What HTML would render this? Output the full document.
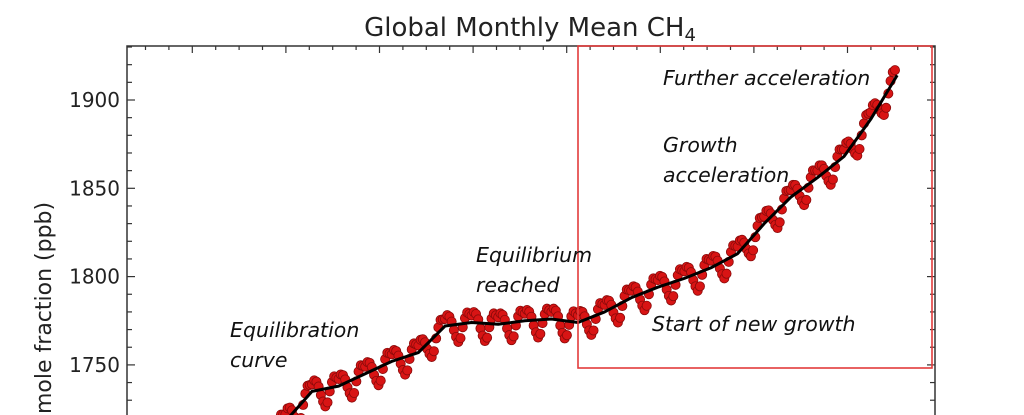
<!DOCTYPE html>
<html><head><meta charset="utf-8"><style>
html,body{margin:0;background:#fff;width:1024px;height:415px;overflow:hidden}
svg{display:block;overflow:hidden}
text{font-family:"DejaVu Sans","Liberation Sans",sans-serif}
.ann{font-family:"DejaVu Sans","Liberation Sans",sans-serif;font-style:italic;font-size:20.5px;fill:#111}
</style></head><body>
<svg id="chart" width="1024" height="415" viewBox="0 0 1024 415" xmlns="http://www.w3.org/2000/svg">
<defs><clipPath id="frame"><rect x="0" y="0" width="1024" height="415"/></clipPath></defs>
<g clip-path="url(#frame)">
<text x="530" y="36" font-size="26" text-anchor="middle" fill="#222">Global Monthly Mean CH<tspan font-size="18" dy="5">4</tspan></text>
<text transform="translate(51,414) rotate(-90)" font-size="22" fill="#222" x="0" y="0">mole fraction (ppb)</text>
<g id="axes"></g>
<g id="marks"></g>
<rect x="578" y="46" width="354" height="322" fill="none" stroke="#e23b3b" stroke-width="1.6"/>
<text class="ann" x="663" y="85">Further acceleration</text>
<text class="ann" x="663" y="152">Growth</text>
<text class="ann" x="663" y="182">acceleration</text>
<text class="ann" x="652" y="331">Start of new growth</text>
<text class="ann" x="476" y="262">Equilibrium</text>
<text class="ann" x="476" y="292">reached</text>
<text class="ann" x="230" y="337">Equilibration</text>
<text class="ann" x="230" y="367">curve</text>
</g>
</svg>
<script>
const years=[1995,1996,1997,1998,1999,2000,2001,2002,2003,2004,2005,2006,2007,2008,2009,2010,2011,2012,2013,2014,2015,2016,2017,2018,2019];
const trend=[1705,1718,1735,1738,1745,1752,1757,1772,1774,1773,1775,1776,1774,1780,1788,1794,1799,1805,1813,1830,1845,1856,1868,1889,1914];
const seasonal=[4,6,5,2,-3,-7,-10,-8,-2,3,6,5];
const yTicks=[1750,1800,1850,1900];
const NS="http://www.w3.org/2000/svg";
const L=127,R=935,T=46,B=415;
const xs=y=>578+(y-2007)*26.6;
const ys=v=>100+(1900-v)*1.766;
const axes=document.getElementById('axes'),marks=document.getElementById('marks');
function mk(tag,attrs,parent){const e=document.createElementNS(NS,tag);for(const k in attrs)e.setAttribute(k,attrs[k]);parent.appendChild(e);return e;}
let sp=mk('path',{d:`M${L},${B} V${T} H${R} V${B}`,fill:'none',stroke:'#333','stroke-width':1.5},axes);


for(let v=1720;v<=1930;v+=10){const y=ys(v);if(y<T||y>B)continue;const major=v%50===0;const len=major?8:5;
 let t=mk('line',{x1:L,x2:L+len,y1:y,y2:y,stroke:'#333','stroke-width':1.2},axes);
 
 
 let t2=mk('line',{x1:R,x2:R-len,y1:y,y2:y,stroke:'#333','stroke-width':1.2},axes);
 
 }
yTicks.forEach(v=>{let tx=mk('text',{x:120,y:ys(v)+7,'font-size':20,'text-anchor':'end',fill:'#222'},axes);tx.textContent=v;
 
 });
for(let x=L+18.5,i=0;x<R;x+=23.4,i++){let t=mk('line',{x1:x,x2:x,y1:T,y2:T+(i%4===2?7:4),stroke:'#333','stroke-width':1.2},axes);
 
 }
const pts=[];
for(let i=0;i<years.length-1;i++){for(let m=0;m<12;m++){const f=m/12;const v=trend[i]+(trend[i+1]-trend[i])*f+seasonal[m];pts.push([xs(years[i]+f),ys(v)]);}}
pts.forEach(p=>{if(p[1]>B+6)return;let c=mk('circle',{cx:p[0],cy:p[1],r:4.6,fill:'#d81414',stroke:'#8a0a0a','stroke-width':0.8},marks);
 
 });
let d='';years.forEach((y,i)=>{d+=(i?'L':'M')+xs(y)+','+ys(trend[i]);});
let ln=mk('path',{d:d,fill:'none',stroke:'#000','stroke-width':3,'stroke-linejoin':'round'},marks);


</script>
</body></html>
